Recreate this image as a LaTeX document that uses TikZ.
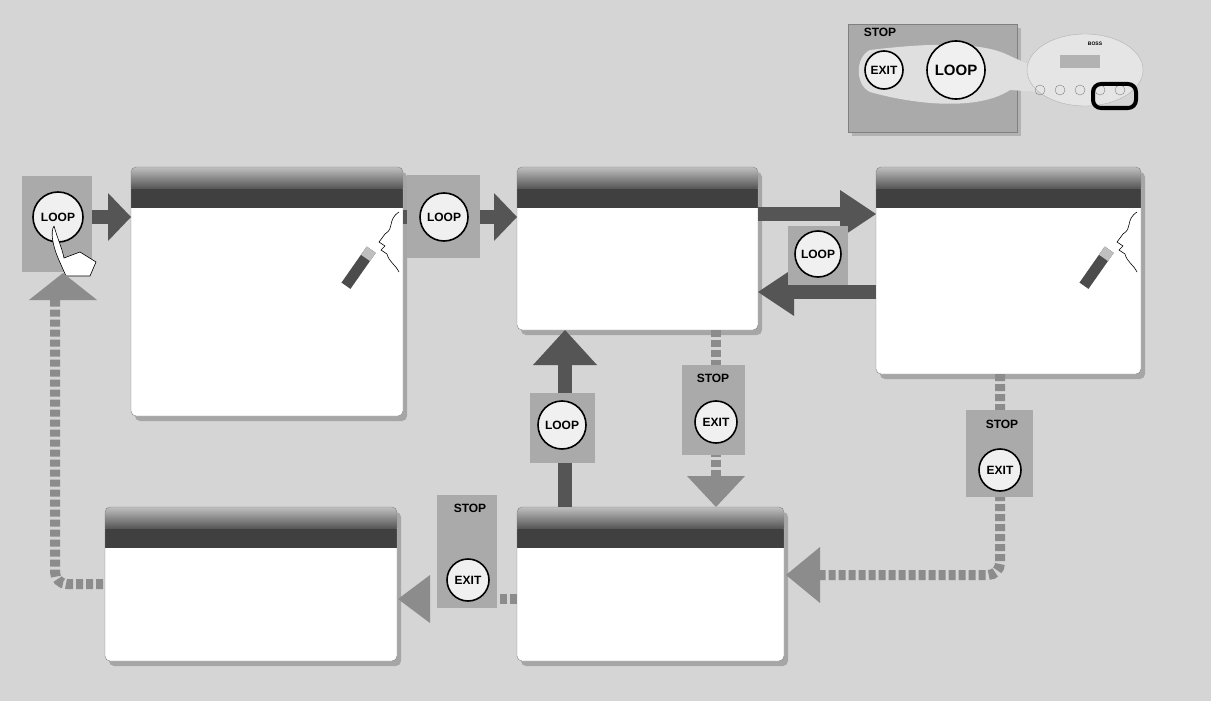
\documentclass[tikz,border=0pt]{standalone}
\usepackage{fontspec}
\setmainfont{Liberation Sans}
\usetikzlibrary{shadows}
\definecolor{bg}{HTML}{D5D5D5}
\definecolor{darkarr}{HTML}{555555}
\definecolor{lightarr}{HTML}{8C8C8C}
\definecolor{panel}{HTML}{AAAAAA}
\begin{document}
\begin{tikzpicture}[x=1pt,y=-1pt,
  btn/.style={circle,draw=black,line width=1.6pt,fill=gray!12,inner sep=0pt,minimum size=#1,font=\bfseries\fontsize{12}{12}\selectfont},
  pnl/.style={fill=panel},
  stoplbl/.style={font=\bfseries\fontsize{12}{12}\selectfont},
  darrow/.style={draw=darkarr,line width=14pt},
  larrow/.style={draw=lightarr,line width=10pt,dash pattern=on 7pt off 3pt},
  tipd/.style={fill=darkarr},
  tipl/.style={fill=lightarr}]
\fill[bg] (0,0) rectangle (1211,701);
\useasboundingbox (0,0) rectangle (1211,701);
\newcommand\screen[5]{%
  \fill[black!35,rounded corners=5pt] (#2+4,#3+5) rectangle (#4+4,#5+5);
  \fill[white,rounded corners=5pt] (#2,#3) rectangle (#4,#5);
  \shade[top color=gray!50,bottom color=black!75,rounded corners=5pt] (#2,#3) rectangle (#4,#3+26);
  \fill[black!75] (#2,#3+22) rectangle (#4,#3+41);
  \draw[gray,rounded corners=5pt] (#2,#3) rectangle (#4,#5);
  \coordinate (#1) at ({(#2+#4)/2},{(#3+#5)/2});}
\screen{s1}{131}{167}{403}{416}
\screen{s2}{517}{167}{758}{330}
\screen{s3}{876}{167}{1141}{374}
\screen{s4}{105}{507}{397}{661}
\screen{s5}{517}{507}{784}{661}
\newcommand\singer[2]{%
  \draw[black,line width=0.6pt] (#1-2,#2-28) .. controls (#1-14,#2-20) and (#1-6,#2-12) .. (#1-16,#2-6)
   -- (#1-22,#2+2) -- (#1-16,#2+6) -- (#1-20,#2+10) -- (#1-14,#2+14) .. controls (#1-12,#2+22) and (#1-6,#2+24) .. (#1-2,#2+32);
  \fill[black!70,rotate around={55:(#1-42,#2+28)}] (#1-64,#2+22) rectangle (#1-20,#2+33);
  \fill[gray!50,rotate around={55:(#1-42,#2+28)}] (#1-30,#2+22) rectangle (#1-20,#2+33);}
\singer{401}{240}
\singer{1139}{240}
\draw[darrow] (92,217) -- (110,217);
\fill[tipd] (108,193) -- (131,217) -- (108,241) -- cycle;
\fill[pnl] (22,176) rectangle (92,272);
\node[btn=50pt] (l0) at (58,217) {LOOP};
\fill[white,draw=black,line width=0.6pt] (54,226) .. controls (58,240) and (62,248) .. (64,258) -- (80,252) -- (96,262) -- (90,276) -- (66,276) -- (58,258) .. controls (53,246) and (50,232) .. (54,226);
\draw[darrow] (403,217) -- (500,217);
\fill[tipd] (494,193) -- (517,217) -- (494,241) -- cycle;
\fill[pnl] (407,175) rectangle (480,258);
\node[btn=48pt] (l1) at (444,217) {LOOP};
\draw[darrow] (758,214) -- (845,214);
\fill[tipd] (840,190) -- (876,214) -- (840,238) -- cycle;
\draw[darrow] (876,292) -- (790,292);
\fill[tipd] (794,268) -- (758,292) -- (794,316) -- cycle;
\fill[pnl] (788,226) rectangle (848,285);
\node[btn=46pt] (l2) at (818,254) {LOOP};
\draw[darrow] (565,507) -- (565,360);
\fill[tipd] (533,365) -- (565,330) -- (597,365) -- cycle;
\fill[pnl] (530,393) rectangle (595,463);
\node[btn=48pt] (l3) at (562,425) {LOOP};
\draw[larrow] (716,330) -- (716,478);
\fill[tipl] (687,476) -- (716,507) -- (745,476) -- cycle;
\fill[pnl] (682,365) rectangle (745,455);
\node[stoplbl] at (713,378) {STOP};
\node[btn=42pt] (e1) at (716,422) {EXIT};
\draw[larrow,rounded corners=12pt] (1000,374) -- (1000,575) -- (815,575);
\fill[tipl] (820,547) -- (786,575) -- (820,603) -- cycle;
\fill[pnl] (966,410) rectangle (1033,497);
\node[stoplbl] at (1002,424) {STOP};
\node[btn=42pt] (e2) at (1000,470) {EXIT};
\draw[larrow] (517,599) -- (497,599);
\fill[lightarr] (430,575) -- (398,599) -- (430,623) -- cycle;
\fill[pnl] (437,495) rectangle (497,608);
\node[stoplbl] at (470,508) {STOP};
\node[btn=42pt] (e3) at (468,580) {EXIT};
\draw[larrow,rounded corners=12pt] (103,584) -- (55,584) -- (55,298);
\fill[tipl] (29,300) -- (63,273) -- (97,300) -- cycle;
\fill[black!30] (852,28) rectangle (1021,136);
\fill[pnl,draw=gray] (848,24) rectangle (1017,132);
\fill[gray!25] (870,50) .. controls (920,44) and (980,40) .. (1010,56) -- (1100,96) -- (1010,90) .. controls (980,110) and (920,106) .. (870,92) .. controls (855,85) and (855,57) .. (870,50);
\node[stoplbl] at (880,32) {STOP};
\node[btn=38pt] (ex) at (884,70) {EXIT};
\node[btn=58pt,font=\bfseries\fontsize{15}{15}\selectfont] (lp) at (956,70) {LOOP};
\fill[gray!20,draw=gray!60] (1085,70) ellipse (58pt and 36pt);
\fill[gray!60] (1060,55) rectangle (1100,68);
\node[font=\bfseries\fontsize{5}{5}\selectfont] at (1095,44) {BOSS};
\foreach \xx in {1040,1060,1080,1100,1120} \draw[gray] (\xx,90) circle (5pt);
\draw[black,line width=4pt,rounded corners=8pt] (1093,84) rectangle (1136,108);
\end{tikzpicture}
\end{document}
